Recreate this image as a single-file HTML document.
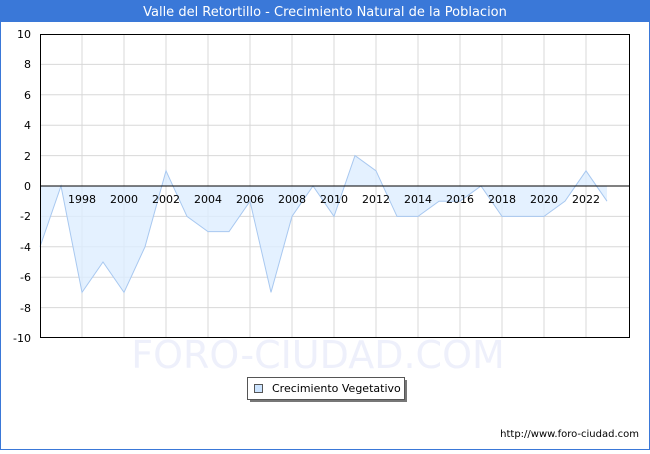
<!DOCTYPE html>
<html><head><style>
body{margin:0;width:650px;height:450px;overflow:hidden;background:#fff;font-family:"DejaVu Sans","Liberation Sans",sans-serif}
</style></head><body>
<svg width="650" height="450" xmlns="http://www.w3.org/2000/svg" font-family="DejaVu Sans, Liberation Sans, sans-serif">
<rect x="0.5" y="0.5" width="649" height="449" fill="#fff" stroke="#3a78d8"/>
<rect x="0" y="0" width="650" height="22" fill="#3a78d8"/>
<text x="325" y="16" text-anchor="middle" font-size="13" fill="#fff">Valle del Retortillo - Crecimiento Natural de la Poblacion</text>
<text x="318" y="368" text-anchor="middle" font-size="38" fill="#eef0fb">FORO-CIUDAD.COM</text>
<g stroke="#d8d8d8" stroke-width="1">
<line x1="40" y1="64.4" x2="630" y2="64.4"/><line x1="40" y1="94.8" x2="630" y2="94.8"/><line x1="40" y1="125.2" x2="630" y2="125.2"/><line x1="40" y1="155.6" x2="630" y2="155.6"/><line x1="40" y1="216.4" x2="630" y2="216.4"/><line x1="40" y1="246.8" x2="630" y2="246.8"/><line x1="40" y1="277.2" x2="630" y2="277.2"/><line x1="40" y1="307.6" x2="630" y2="307.6"/>
<line x1="82" y1="34" x2="82" y2="338"/><line x1="124" y1="34" x2="124" y2="338"/><line x1="166" y1="34" x2="166" y2="338"/><line x1="208" y1="34" x2="208" y2="338"/><line x1="250" y1="34" x2="250" y2="338"/><line x1="292" y1="34" x2="292" y2="338"/><line x1="334" y1="34" x2="334" y2="338"/><line x1="376" y1="34" x2="376" y2="338"/><line x1="418" y1="34" x2="418" y2="338"/><line x1="460" y1="34" x2="460" y2="338"/><line x1="502" y1="34" x2="502" y2="338"/><line x1="544" y1="34" x2="544" y2="338"/><line x1="586" y1="34" x2="586" y2="338"/>
</g>
<polygon fill="#ddeeff" fill-opacity="0.8" points="40,186 40,246.8 61,186 82,292.4 103,262 124,292.4 145,246.8 166,170.8 187,216.4 208,231.6 229,231.6 250,201.2 271,292.4 292,216.4 313,186 334,216.4 355,155.6 376,170.8 397,216.4 418,216.4 439,201.2 460,201.2 481,186 502,216.4 523,216.4 544,216.4 565,201.2 586,170.8 607,201.2 607,186"/>
<polyline fill="none" stroke="#a8c8f0" stroke-width="1" points="40,246.8 61,186 82,292.4 103,262 124,292.4 145,246.8 166,170.8 187,216.4 208,231.6 229,231.6 250,201.2 271,292.4 292,216.4 313,186 334,216.4 355,155.6 376,170.8 397,216.4 418,216.4 439,201.2 460,201.2 481,186 502,216.4 523,216.4 544,216.4 565,201.2 586,170.8 607,201.2"/>
<line x1="40" y1="186" x2="630" y2="186" stroke="#000"/>
<rect x="40.5" y="34.5" width="589" height="303" fill="none" stroke="#000"/>
<g font-size="11" fill="#000" text-anchor="end">
<text x="31" y="38">10</text><text x="31" y="68">8</text><text x="31" y="99">6</text><text x="31" y="129">4</text><text x="31" y="160">2</text><text x="31" y="190">0</text><text x="31" y="220">-2</text><text x="31" y="251">-4</text><text x="31" y="281">-6</text><text x="31" y="312">-8</text><text x="31" y="342">-10</text>
</g>
<g font-size="11" fill="#000" text-anchor="middle">
<text x="82" y="203">1998</text><text x="124" y="203">2000</text><text x="166" y="203">2002</text><text x="208" y="203">2004</text><text x="250" y="203">2006</text><text x="292" y="203">2008</text><text x="334" y="203">2010</text><text x="376" y="203">2012</text><text x="418" y="203">2014</text><text x="460" y="203">2016</text><text x="502" y="203">2018</text><text x="544" y="203">2020</text><text x="586" y="203">2022</text>
</g>
<rect x="250" y="380" width="157" height="22" fill="#777"/>
<rect x="247.5" y="377.5" width="157" height="22" fill="#fff" stroke="#555"/>
<rect x="254.5" y="384.5" width="8" height="8" fill="#cce4ff" stroke="#555"/>
<text x="272" y="392" font-size="11" fill="#000">Crecimiento Vegetativo</text>
<text x="639" y="437" text-anchor="end" font-size="10" fill="#000">http://www.foro-ciudad.com</text>
</svg>
</body></html>
